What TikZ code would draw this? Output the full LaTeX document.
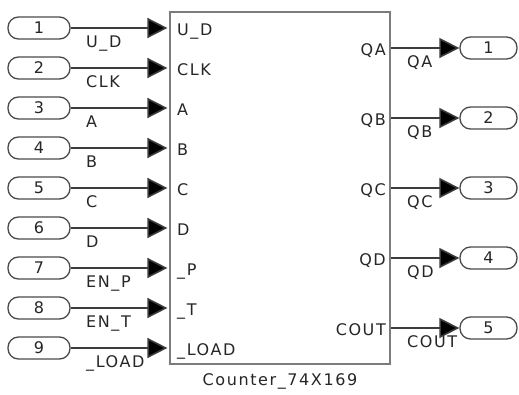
\documentclass[tikz,border=0pt]{standalone}
\usepackage{fontspec}
\setmainfont[LetterSpace=10]{DejaVu Sans}
\usetikzlibrary{arrows.meta}
\definecolor{wire}{HTML}{3C3C3C}
\definecolor{frame}{HTML}{7C7C7C}
\definecolor{ovalline}{HTML}{4A4A4A}
\begin{document}
\begin{tikzpicture}[x=1pt,y=-1pt,
  every node/.style={font=\fontsize{16}{18}\selectfont, text=black!85},
  portoval/.style={draw=ovalline, line width=1.3pt, rounded corners=10.5pt,
    minimum height=22pt, inner sep=0pt},
  inoval/.style={portoval, minimum width=62pt},
  outoval/.style={portoval, minimum width=57pt},
  blockbox/.style={draw=frame, line width=2.6pt, minimum width=220pt,
    minimum height=352pt, inner sep=0pt},
  signal/.style={draw=wire, line width=1.6pt,
    -{Triangle[length=20pt,width=20pt,fill=black]}},
  txt/.style={inner sep=0pt}
]
\fill[white] (0,0) rectangle (519,394);
\useasboundingbox (0,0) rectangle (519,394);

% the counter subsystem block
\node[blockbox] (blk) at (280,188) {};
\node[txt, anchor=base] (title) at (280,385) {Counter\_74X169};

% input ports, wires and pin names
\foreach \k/\yy/\sig/\pin in {1/28/U\_D/U\_D, 2/68/CLK/CLK, 3/108/A/A,
    4/148/B/B, 5/188/C/C, 6/228/D/D, 7/268/EN\_P/\_P, 8/308/EN\_T/\_T,
    9/348/\_LOAD/\_LOAD}{
  \node[inoval] (i\k) at (39,\yy) {\k};
  \coordinate (p\k) at ([xshift=-1.3pt]blk.west |- i\k);
  \draw[signal] (i\k.east) -- (p\k);
  \node[txt, anchor=base west] (s\k) at (86,\yy+19) {\sig};
  \node[txt, anchor=base west] (n\k) at (177,\yy+7) {\pin};
}

% output ports, wires and pin names
\foreach \k/\yy/\sig in {1/48/QA, 2/118/QB, 3/188/QC, 4/258/QD, 5/328/COUT}{
  \node[outoval] (o\k) at (488.5,\yy) {\k};
  \coordinate (q\k) at (blk.east |- o\k);
  \draw[signal] (q\k) -- (o\k.west);
  \node[txt, anchor=base west] (t\k) at (407,\yy+19) {\sig};
  \node[txt, anchor=base east] (m\k) at (386,\yy+7) {\sig};
}
\end{tikzpicture}
\end{document}
